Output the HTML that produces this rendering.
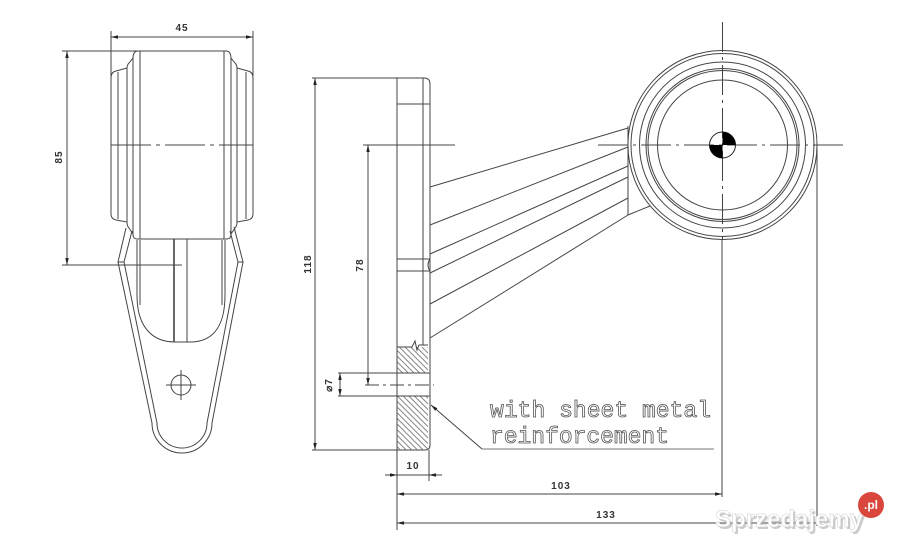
<!DOCTYPE html>
<html><head><meta charset="utf-8"><style>
html,body{margin:0;padding:0;background:#fff;}
svg{display:block;}
.d{font-family:"Liberation Sans",sans-serif;font-size:10px;font-weight:bold;fill:#333;letter-spacing:1px;}
</style></head><body>
<svg width="903" height="550" viewBox="0 0 903 550" xmlns="http://www.w3.org/2000/svg">
<defs>
<marker id="a" viewBox="0 0 8 4" refX="8" refY="2" markerWidth="7" markerHeight="3.5" markerUnits="userSpaceOnUse" orient="auto-start-reverse"><path d="M0,0 L8,2 L0,4 z" fill="#222"/></marker>
<pattern id="h" width="4" height="4" patternUnits="userSpaceOnUse" patternTransform="rotate(-45)"><line x1="1" y1="0" x2="1" y2="4" stroke="#666" stroke-width="0.8"/></pattern>
</defs>
<rect width="903" height="550" fill="#fff"/>
<g fill="none" stroke="#444" stroke-width="1">
<!-- LEFT VIEW -->
<!-- dim 45 -->
<line x1="111" y1="31" x2="111" y2="76"/>
<line x1="253" y1="31" x2="253" y2="76"/>
<line x1="111" y1="37" x2="253" y2="37" marker-start="url(#a)" marker-end="url(#a)"/>
<!-- dim 85 -->
<line x1="62" y1="51" x2="137" y2="51"/>
<line x1="62" y1="265" x2="182" y2="265"/>
<line x1="67" y1="51" x2="67" y2="265" marker-start="url(#a)" marker-end="url(#a)"/>
<!-- drum -->
<line x1="137" y1="51" x2="227" y2="51"/>
<line x1="137" y1="239" x2="227" y2="239"/>
<path d="M137,51 Q133,52 133,58 L129,63 Q127,65 127,68 L116,71 Q111,72 111,78 L111,214 Q111,219 116,220 L127,222 Q127,226 129,228 L133,234 Q133,239 137,239"/>
<path d="M227,51 Q231,52 231,58 L235,63 Q237,65 237,68 L248,71 Q253,72 253,78 L253,214 Q253,219 248,220 L237,222 Q237,226 235,228 L231,234 Q231,239 227,239"/>
<line x1="118" y1="72" x2="118" y2="219"/>
<line x1="127" y1="68" x2="127" y2="222"/>
<line x1="133" y1="58" x2="133" y2="234"/>
<line x1="140" y1="51" x2="140" y2="239"/>
<line x1="246" y1="72" x2="246" y2="219"/>
<line x1="237" y1="68" x2="237" y2="222"/>
<line x1="231" y1="58" x2="231" y2="234"/>
<line x1="224" y1="51" x2="224" y2="239"/>
<line x1="111" y1="145" x2="253" y2="145" stroke-dasharray="40,5,4,5"/>
<!-- lower body -->
<path d="M137,240 L137,295 C137,330 155,342 175,342 L190,342 C210,342 225,330 225,295 L225,240"/>
<line x1="140" y1="240" x2="140" y2="305"/>
<line x1="222" y1="240" x2="222" y2="305"/>
<line x1="174" y1="239" x2="174" y2="342" stroke-width="1.6"/>
<line x1="187" y1="239" x2="187" y2="342"/>
<!-- bracket -->
<path d="M126,228 L118,262 L152,423 A30,30 0 0 0 212,423 L243,262 L234,227"/>
<path d="M132,231 L124,262 L157,423 A25,25 0 0 0 207,423 L238,262 L230,231"/>
<line x1="118" y1="262" x2="124" y2="262"/>
<line x1="238" y1="262" x2="243" y2="262"/>
<!-- hole -->
<circle cx="181" cy="385" r="10"/>
<line x1="166" y1="385" x2="196" y2="385"/>
<line x1="181" y1="370" x2="181" y2="400"/>

<!-- MIDDLE VIEW -->
<path d="M397,78 L424,78 Q430,78 430,84 L430,445 Q430,450 425,450 L397,450 Z"/>
<line x1="423" y1="78" x2="423" y2="345"/>
<line x1="397" y1="104" x2="430" y2="104"/>
<line x1="397" y1="259" x2="430" y2="259"/>
<line x1="397" y1="271" x2="430" y2="271"/>
<path d="M430,259 Q426,265 430,271"/>
<!-- dim 118 -->
<line x1="312" y1="78" x2="397" y2="78"/>
<line x1="312" y1="450" x2="397" y2="450"/>
<line x1="315" y1="78" x2="315" y2="450" marker-start="url(#a)" marker-end="url(#a)"/>
<!-- dim 78 -->
<line x1="363" y1="145" x2="455" y2="145"/>
<line x1="368" y1="145" x2="368" y2="385" marker-start="url(#a)" marker-end="url(#a)"/>
<line x1="365" y1="385" x2="434" y2="385" stroke-dasharray="14,4,3,4"/>
<!-- hatch -->
<rect x="397" y="347" width="31" height="26" fill="url(#h)" stroke="none"/>
<rect x="397" y="396" width="31" height="54" fill="url(#h)" stroke="none"/>
<path d="M397,347 L412,347 L415,341 L417,350 L419,345 L428,345"/>
<line x1="338" y1="373" x2="430" y2="373"/>
<line x1="338" y1="396" x2="430" y2="396"/>
<line x1="340" y1="373" x2="340" y2="396" marker-start="url(#a)" marker-end="url(#a)"/>
<!-- dim 10 -->
<line x1="397" y1="450" x2="397" y2="530"/>
<line x1="429" y1="450" x2="429" y2="481"/>
<line x1="385" y1="475" x2="397" y2="475" marker-end="url(#a)"/>
<line x1="442" y1="475" x2="429" y2="475" marker-end="url(#a)"/>
<line x1="397" y1="475" x2="429" y2="475"/>
<!-- leader -->
<line x1="482" y1="449" x2="431" y2="405" marker-end="url(#a)"/>
<line x1="482" y1="449" x2="714" y2="449" stroke="#777"/>
<!-- dims 103 133 -->
<line x1="397" y1="494" x2="722" y2="494" marker-start="url(#a)" marker-end="url(#a)"/>
<line x1="397" y1="523" x2="817" y2="523" marker-start="url(#a)" marker-end="url(#a)"/>
<line x1="722" y1="240" x2="722" y2="497"/>
<line x1="817" y1="148" x2="817" y2="526"/>

<!-- arms -->
<line x1="430" y1="187" x2="628" y2="128"/>
<line x1="430" y1="225" x2="628" y2="147"/>
<line x1="430" y1="254" x2="628" y2="166"/>
<line x1="430" y1="273" x2="628" y2="177"/>
<line x1="430" y1="304" x2="628" y2="198"/>
<line x1="430" y1="338" x2="628" y2="215"/>
<line x1="628" y1="215" x2="650" y2="206"/>
<line x1="628" y1="126" x2="628" y2="215"/>

<!-- ring -->
<circle cx="722.5" cy="145" r="94.5"/>
<circle cx="722.5" cy="145" r="91.5"/>
<circle cx="722.5" cy="145" r="83"/>
<circle cx="722.5" cy="145" r="76.5"/>
<circle cx="722.5" cy="145" r="74.5"/>
<circle cx="722.5" cy="145" r="65"/>
<line x1="598" y1="145" x2="848" y2="145" stroke-dasharray="30,5,3,5"/>
<line x1="722.5" y1="22" x2="722.5" y2="240" stroke-dasharray="30,5,3,5"/>
<circle cx="722.5" cy="145" r="13" stroke="#222"/>
<path d="M722.5,145 L722.5,132 A13,13 0 0 1 735.5,145 Z" fill="#000" stroke="none"/>
<path d="M722.5,145 L722.5,158 A13,13 0 0 1 709.5,145 Z" fill="#000" stroke="none"/>
</g>

<!-- dimension texts -->
<text class="d" x="182" y="31" text-anchor="middle">45</text>
<text class="d" transform="translate(62,157) rotate(-90)" text-anchor="middle">85</text>
<text class="d" transform="translate(311,264) rotate(-90)" text-anchor="middle">118</text>
<text class="d" transform="translate(363,265) rotate(-90)" text-anchor="middle">78</text>
<text class="d" transform="translate(332,385) rotate(-90)" text-anchor="middle">⌀7</text>
<text class="d" x="413" y="469" text-anchor="middle">10</text>
<text class="d" x="561" y="489" text-anchor="middle">103</text>
<text class="d" x="606" y="518" text-anchor="middle">133</text>

<text x="490" y="417" textLength="221" font-family="Liberation Mono, monospace" font-size="23" fill="#fff" stroke="#555" stroke-width="0.8">with sheet metal</text>
<text x="490" y="443" textLength="179" font-family="Liberation Mono, monospace" font-size="23" fill="#fff" stroke="#555" stroke-width="0.8">reinforcement</text>

<!-- watermark -->
<text x="717" y="529" font-family="Liberation Sans, sans-serif" font-size="24" font-weight="bold" fill="#aaa" opacity="0.6">Sprzedajemy</text>
<text x="715" y="527" font-family="Liberation Sans, sans-serif" font-size="24" font-weight="bold" fill="#fff" stroke="#ccc" stroke-width="0.5">Sprzedajemy</text>
<circle cx="871" cy="505" r="13" fill="#d9473c"/>
<text x="871" y="509" text-anchor="middle" font-family="Liberation Sans, sans-serif" font-size="12" font-weight="bold" fill="#fff">.pl</text>
</svg>
</body></html>
